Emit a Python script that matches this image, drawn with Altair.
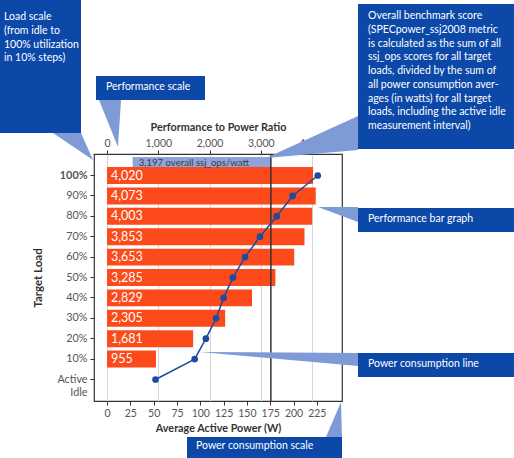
import altair as alt
import pandas as pd

# ---------------- data ----------------
load_levels = ["100%", "90%", "80%", "70%", "60%", "50%", "40%", "30%", "20%", "10%", "Active Idle"]
perf_ratio = [4020, 4073, 4003, 3853, 3653, 3285, 2829, 2305, 1681, 955]
avg_power = [226, 199, 182, 164, 148, 135, 125, 117, 106, 94, 52]
overall_score = 3197
perf_ticks = [0, 1000, 2000, 3000, 4000]
power_ticks = [0, 25, 50, 75, 100, 125, 150, 175, 200, 225]

# ---------------- styling / layout ----------------
FONT = "Lato"
BAR = "#fd4a1b"
LINE = "#1c4c9f"
BOX = "#0b48a8"
WEDGE = "#7e9bd8"
OX, OY = 94, 154          # plot-area origin on the canvas
W, H = 248, 247           # plot-area size

# callout annotations (canvas pixels)
box_x0 = [0, 96, 358, 358, 358, 187]
box_y0 = [0, 76, 4, 208, 353, 437]
box_x1 = [81, 205, 514, 514, 514, 342]
box_y1 = [133, 100, 149, 232, 377, 458]
box_tx = [4, 106, 368, 368, 368, 196]
box_ty = [12, 82, 11, 214, 359, 441]
box_text = [
    "Load scale\n(from idle to\n100% utilization\nin 10% steps)",
    "Performance scale",
    "Overall benchmark score\n(SPECpower_ssj2008 metric\nis calculated as the sum of all\nssj_ops scores for all target\nloads, divided by the sum of\nall power consumption aver-\nages (in watts) for all target\nloads, including the active idle\nmeasurement interval)",
    "Performance bar graph",
    "Power consumption line",
    "Power consumption scale",
]
wedges = [
    [(53, 133), (81, 133), (93, 160)],
    [(99, 100), (121, 100), (118, 147)],
    [(266, 158), (358, 116), (358, 150)],
    [(318, 207), (358, 207), (358, 222)],
    [(200, 352), (358, 353), (358, 366)],
    [(341, 402), (326, 437), (342, 437)],
]

# ---------------- tables ----------------
bars_df = pd.DataFrame({"load": load_levels[:len(perf_ratio)], "perf": perf_ratio, "base": 0})
power_df = pd.DataFrame({"load": load_levels, "power": avg_power})
band_df = pd.DataFrame({"start": [500], "score": [overall_score],
                        "label": [f"{overall_score:,} overall ssj_ops/watt"]})
boxes_df = pd.DataFrame({
    "x0": [v - OX for v in box_x0], "x1": [v - OX for v in box_x1],
    "y0": [v - OY for v in box_y0], "y1": [v - OY for v in box_y1],
    "tx": [v - OX for v in box_tx], "ty": [v - OY for v in box_ty],
    "txt": box_text,
})
wedge_rows = []
for i, tri in enumerate(wedges):
    for k, (px, py) in enumerate(tri):
        wedge_rows.append({"id": i, "k": k, "x": px - OX, "y": py - OY})
wedge_df = pd.DataFrame(wedge_rows)

# ---------------- scales / axes ----------------
perf_scale = alt.Scale(domain=[-254, 4585], nice=False, zero=False)
power_scale = alt.Scale(domain=[-14, 252], nice=False, zero=False)
y_scale = alt.Scale(paddingInner=0.17, paddingOuter=0.64)

top_axis = alt.Axis(orient="top", values=perf_ticks, labelExpr="format(datum.value, ',')",
                    title="Performance to Power Ratio",
                    grid=True, gridColor="#d6d6d6", domain=False, tickSize=4, tickColor="#333",
                    labelColor="#555", labelFontSize=10.5, labelPadding=2, labelFlush=False,
                    titleFontSize=10.8, titleFontWeight="bold", titleColor="#333", titlePadding=6)
bottom_axis = alt.Axis(orient="bottom", values=power_ticks, title="Average Active Power (W)",
                       grid=False, domain=False, tickSize=4, tickColor="#333",
                       labelColor="#555", labelFontSize=10.5, labelPadding=3, labelFlush=False,
                       titleFontSize=10.8, titleFontWeight="bold", titleColor="#333", titlePadding=4)
y_axis = alt.Axis(title="Target Load", titleFontSize=11.5, titleFontWeight="bold", titleColor="#333",
                  titlePadding=13, domain=False, tickSize=4, tickColor="#333",
                  labelColor="#555", labelFontSize=10.8, labelPadding=3,
                  labelExpr="datum.value == 'Active Idle' ? ['Active', 'Idle'] : datum.label",
                  labelFontWeight={"condition": {"test": "datum.value == '100%'", "value": "bold"}, "value": "normal"},
                  labelBaseline={"condition": {"test": "datum.value == 'Active Idle'", "value": "alphabetic"}, "value": "middle"},
                  labelOffset={"condition": {"test": "datum.value == 'Active Idle'", "value": 4}, "value": 0})

y_enc = alt.Y("load:N", sort=load_levels, scale=y_scale, axis=y_axis)

# ---------------- performance layer ----------------
bars = alt.Chart(bars_df).mark_bar(color=BAR).encode(
    x=alt.X("perf:Q", scale=perf_scale, axis=top_axis), x2="base:Q", y=y_enc)
bar_labels = alt.Chart(bars_df).mark_text(align="left", baseline="middle", dx=4, color="white",
                                          fontSize=12.5, font=FONT).encode(
    x=alt.X("base:Q", scale=perf_scale, axis=top_axis), y=y_enc, text=alt.Text("perf:Q", format=","))
band = alt.Chart(band_df).mark_rect(color="#8fa5da").encode(
    x=alt.X("start:Q", scale=perf_scale, axis=top_axis), x2="score:Q", y=alt.value(3), y2=alt.value(15))
band_text = alt.Chart(band_df).mark_text(align="left", baseline="middle", dx=6, color="#3a3a3a",
                                         fontSize=9.6, font=FONT).encode(
    x=alt.X("start:Q", scale=perf_scale, axis=top_axis), y=alt.value(9), text="label:N")
score_rule = alt.Chart(band_df).mark_rule(color="#333", strokeWidth=1.5).encode(
    x=alt.X("score:Q", scale=perf_scale, axis=top_axis))
perf_layer = alt.layer(band, bars, bar_labels, band_text, score_rule)

# ---------------- power layer ----------------
power_line = alt.Chart(power_df).mark_line(
    color=LINE, strokeWidth=1.5,
    point=alt.OverlayMarkDef(filled=True, size=45, color=LINE)).encode(
    x=alt.X("power:Q", scale=power_scale, axis=bottom_axis), y=y_enc)

# ---------------- callouts ----------------
wedge_layer = alt.Chart(wedge_df).mark_line(filled=True, color=WEDGE).encode(
    x=alt.X("x:Q", scale=None, axis=None), y=alt.Y("y:Q", scale=None, axis=None),
    detail="id:N", order="k:Q")
box_layer = alt.Chart(boxes_df).mark_rect(color=BOX).encode(
    x=alt.X("x0:Q", scale=None, axis=None), x2="x1:Q",
    y=alt.Y("y0:Q", scale=None, axis=None), y2="y1:Q")
text_layer = alt.Chart(boxes_df).mark_text(align="left", baseline="top", lineBreak="\n", lineHeight=13.75,
                                           color="white", fontSize=10.5, font=FONT).encode(
    x=alt.X("tx:Q", scale=None, axis=None), y=alt.Y("ty:Q", scale=None, axis=None), text="txt:N")

chart = alt.layer(perf_layer, power_line, wedge_layer, box_layer, text_layer).resolve_scale(
    x="independent"
).properties(
    width=W, height=H,
    padding={"left": OX, "top": OY, "right": 514 - OX - W, "bottom": 458 - OY - H},
    autosize=alt.AutoSizeParams(type="none"),
).configure(font=FONT).configure_view(stroke="#333", strokeWidth=1.2).configure_axis(
    labelFont=FONT, titleFont=FONT)

chart.save("out.html", embed_options={"renderer": "svg", "actions": False})
